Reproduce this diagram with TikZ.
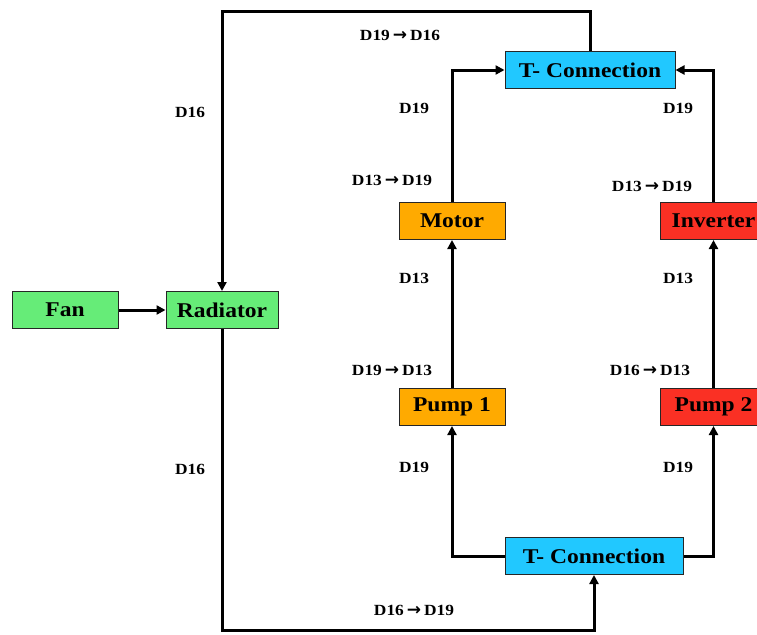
\documentclass[tikz,border=0pt]{standalone}
\usepackage{fontspec}
\setmainfont{Liberation Serif}[FakeStretch=1.12]
\newfontfamily\arrfont{DejaVu Sans}
\usetikzlibrary{arrows.meta}
\definecolor{tcyan}{RGB}{33,200,255}
\definecolor{tgreen}{RGB}{102,236,120}
\definecolor{torange}{RGB}{255,170,0}
\definecolor{tred}{RGB}{250,48,36}
\newcommand{\ar}{\hspace{3pt}{\arrfont\bfseries\fontsize{17}{18}\selectfont →}\hspace{3pt}}
\begin{document}
\begin{tikzpicture}[x=1pt,y=-1pt,
  box/.style={draw=black!85,line width=1pt,minimum height=37pt,inner sep=0pt,font=\bfseries\fontsize{21}{24}\selectfont},
  lbl/.style={font=\bfseries\fontsize{15.5}{18}\selectfont,inner sep=0pt},
  flow/.style={line width=3pt,-{Triangle[length=9pt,width=9pt]}}]
\useasboundingbox (0,0) rectangle (757,634);
\node[box,fill=tcyan,minimum width=170pt] (tct) at (590,70) {T- Connection};
\node[box,fill=tcyan,minimum width=178pt] (tcb) at (594,556) {T- Connection};
\node[box,fill=torange,minimum width=106pt] (motor) at (452,221) {Motor};
\node[box,fill=tred,minimum width=106pt,anchor=west] (inv) at (660,221) {Inverter};
\node[box,fill=torange,minimum width=106pt] (p1) at (452,407) {Pump 1};
\node[box,fill=tred,minimum width=106pt,anchor=west] (p2) at (660,407) {Pump 2};
\node[box,fill=tgreen,minimum width=106pt] (fan) at (65,310) {Fan};
\node[box,fill=tgreen,minimum width=112pt] (rad) at (222,310) {Radiator};
\coordinate (c1) at (590,12);
\coordinate (c2) at (222,12);
\coordinate (c3) at (222,630);
\coordinate (c4) at (594,630);
\draw[flow] (tct.north) -- (c1) -- (c2) -- (rad.north);
\draw[flow] (rad.south) -- (c3) -- (c4) -- (tcb.south);
\draw[flow] (tcb.west) -| (p1.south);
\draw[flow] (tcb.east) -| (p2.south);
\draw[flow] (fan.east) -- (rad.west);
\draw[flow] (p1.north) -- (motor.south);
\draw[flow] (motor.north) |- (tct.west);
\draw[flow] (p2.north) -- (inv.south);
\draw[flow] (inv.north) |- (tct.east);
\node[lbl] (l1) at (400,35) {D19\ar D16};
\node[lbl] (l2) at (190,112) {D16};
\node[lbl] (l3) at (414,108) {D19};
\node[lbl] (l4) at (678,108) {D19};
\node[lbl] (l5) at (392,180) {D13\ar D19};
\node[lbl] (l6) at (652,186) {D13\ar D19};
\node[lbl] (l7) at (414,278) {D13};
\node[lbl] (l8) at (678,278) {D13};
\node[lbl] (l9) at (392,370) {D19\ar D13};
\node[lbl] (l10) at (650,370) {D16\ar D13};
\node[lbl] (l11) at (190,469) {D16};
\node[lbl] (l12) at (414,467) {D19};
\node[lbl] (l13) at (678,467) {D19};
\node[lbl] (l14) at (414,610) {D16\ar D19};
\end{tikzpicture}
\end{document}
